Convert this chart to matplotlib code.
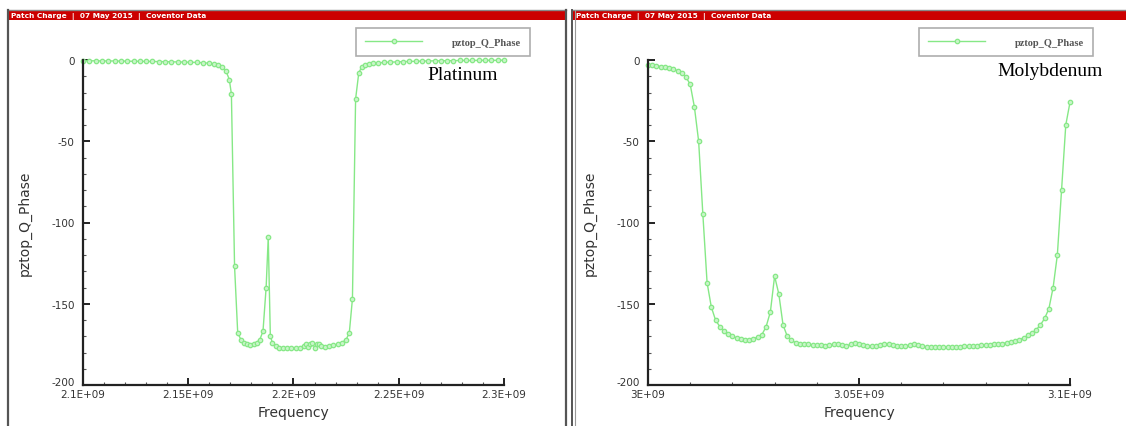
import matplotlib.pyplot as plt
from matplotlib.patches import Rectangle
from matplotlib.lines import Line2D
from matplotlib.transforms import ScaledTranslation

plt.rcParams["axes.unicode_minus"] = False

# Platinum sweep (MHz, degrees)
pt_freq = [2100, 2103, 2106, 2109, 2112, 2115, 2118, 2121, 2124, 2127, 2130, 2133,
           2136, 2139, 2142, 2145, 2148, 2151, 2154, 2157, 2160, 2162, 2164, 2166,
           2168, 2169.5, 2170.5, 2172, 2173.5, 2175, 2176.5, 2178, 2179.5, 2181,
           2182.5, 2184, 2185.5, 2187, 2188, 2189, 2190, 2191.5, 2193, 2195, 2197,
           2199, 2201, 2203, 2205, 2206, 2207, 2208, 2209, 2210, 2211, 2212, 2213,
           2215, 2217, 2219, 2221, 2223, 2225, 2226.5, 2228, 2229.5, 2231, 2232.5,
           2234, 2236, 2238, 2240, 2243, 2246, 2249, 2252, 2255, 2258, 2261, 2264,
           2267, 2270, 2273, 2276, 2279, 2282, 2285, 2288, 2291, 2294, 2297, 2300]
pt_phase = [-0.5, -0.5, -0.5, -0.6, -0.6, -0.6, -0.7, -0.7, -0.8, -0.8, -0.9, -0.9,
            -1.0, -1.0, -1.1, -1.2, -1.3, -1.4, -1.5, -1.7, -2.0, -2.4, -3.0, -4.2,
            -7, -12, -21, -127, -168, -172, -174, -175, -175.5, -175, -174, -172,
            -167, -140, -109, -170, -174, -176, -177, -177.5, -177.5, -177, -177,
            -177, -176, -174.5, -176.5, -175, -174, -177, -175, -174.5, -176,
            -176.5, -176, -175.5, -175, -174, -172, -168, -147, -24, -8, -4,
            -3, -2.5, -2, -1.8, -1.5, -1.3, -1.2, -1.0, -0.9, -0.8, -0.7, -0.6,
            -0.5, -0.5, -0.4, -0.4, -0.3, -0.3, -0.3, -0.2, -0.2, -0.2, -0.2, -0.1]

# Molybdenum sweep (MHz, degrees)
mo_freq = list(range(3000, 3101))
mo_phase = [-3.0, -3.3, -3.6, -4.0, -4.4, -5.0, -5.7, -6.6, -8.0, -10.5,
            -15, -29, -50, -95, -137, -152, -160, -164, -166.5, -168.5,
            -170, -171, -171.5, -172, -172, -171.5, -170.5, -169, -164, -155,
            -133, -144, -163, -170, -172.5, -174, -174.5, -175, -175, -175.5,
            -175.5, -175.5, -176, -175.5, -175, -174.5, -175.5, -176, -175, -174,
            -174.5, -175.5, -176, -176, -176, -175.5, -175, -174.5, -175.5, -176,
            -176, -176, -175.5, -175, -175.5, -176, -176.5, -176.5, -176.5, -176.5,
            -176.5, -176.5, -176.5, -176.5, -176.5, -176, -176, -176, -176, -175.5,
            -175.5, -175.5, -175, -175, -174.5, -174, -173.5, -173, -172, -171,
            -169.5, -168, -166, -163, -159, -153, -140, -120, -80, -40, -26]

pt_ticks = [2.1e9, 2.15e9, 2.2e9, 2.25e9, 2.3e9]
pt_labels = ["2.1E+09", "2.15E+09", "2.2E+09", "2.25E+09", "2.3E+09"]
mo_ticks = [3.0e9, 3.05e9, 3.1e9]
mo_labels = ["3E+09", "3.05E+09", "3.1E+09"]
y_ticks = [0, -50, -100, -150, -200]

header = "Patch Charge  |  07 May 2015  |  Coventor Data"

W, H = 1126, 427
fig = plt.figure(figsize=(W / 100, H / 100), dpi=100)
fig.patch.set_facecolor("white")


def fx(px):
    return px / W


def fy(py):
    return 1 - py / H


green = "#86e886"
tick_col = "#333333"

# x0, x1, data, ticks, label, name position, legend box right/top
panels = [
    (83, 504, pt_freq, pt_phase, pt_ticks, pt_labels, "Platinum", 463, 76, 530),
    (648, 1070, mo_freq, mo_phase, mo_ticks, mo_labels, "Molybdenum", 1050, 72, 1093),
]

for x0, x1, freq, phase, ticks, labels, name, nx, ny, lx in panels:
    ax = fig.add_axes([fx(x0), fy(386), fx(x1 - x0), fy(61) - fy(386)])
    ax.plot([f * 1e6 for f in freq], phase, color=green, lw=1.0, marker="o",
            ms=3.2, mfc="#c8f5c8", mec=green, mew=0.9, label="pztop_Q_Phase",
            clip_on=False)
    ax.set_xlim(ticks[0], ticks[-1])
    ax.set_ylim(-200, 0)
    ax.set_xticks(ticks)
    ax.set_xticklabels(labels)
    step = 0.01e9
    n = int(round((ticks[-1] - ticks[0]) / step))
    minors = [ticks[0] + i * step for i in range(n + 1)]
    ax.set_xticks([t for t in minors if all(abs(t - m) > 1 for m in ticks)], minor=True)
    ax.set_yticks(y_ticks)
    ax.set_yticks([v for v in range(-200, 1, 10) if v % 50 != 0], minor=True)
    for s in ["top", "right"]:
        ax.spines[s].set_visible(False)
    for s in ["left", "bottom"]:
        ax.spines[s].set_linewidth(1.6)
        ax.spines[s].set_color("#222222")
    ax.tick_params(which="major", direction="in", length=5, width=1.4,
                   colors="#222222", labelcolor=tick_col, labelsize=7.5)
    ax.tick_params(which="minor", direction="in", length=2.5, width=0.8,
                   colors="#555555")
    ax.tick_params(axis="y", pad=6)
    ax.tick_params(axis="x", pad=3)
    # lift the bottom y label a little so it clears the first x label
    lab = ax.get_yticklabels()[-1]
    lab.set_transform(lab.get_transform() + ScaledTranslation(0, 3 / 72, fig.dpi_scale_trans))
    ax.set_xlabel("Frequency", fontsize=10, color="#333333", labelpad=4)
    ax.set_ylabel("pztop_Q_Phase", fontsize=10, color="#333333", labelpad=14)
    ax.set_facecolor("none")
    leg = ax.legend(loc="upper right", bbox_to_anchor=(fx(lx), fy(29)),
                    bbox_transform=fig.transFigure, frameon=True, fancybox=False,
                    edgecolor="#999999", prop={"family": "Liberation Serif",
                                               "weight": "bold", "size": 7.5},
                    handlelength=5.5, borderpad=0.9, handletextpad=2.8,
                    borderaxespad=0)
    leg.get_frame().set_linewidth(1.2)
    for t in leg.get_texts():
        t.set_color("#555555")
    fig.text(fx(nx), fy(ny), name, ha="center", va="center",
             family="Liberation Serif", fontsize=14, color="black")

# panel headers and frames
for left, right in [(8, 566), (573, 1126)]:
    fig.patches.append(Rectangle((fx(left), fy(20.5)), fx(right - left), fy(11) - fy(20.5),
                                 transform=fig.transFigure, facecolor="#cc0000",
                                 edgecolor="none"))
    fig.lines.append(Line2D([fx(left), fx(right)], [fy(10.5), fy(10.5)],
                            transform=fig.transFigure, color="#888888", lw=1))
    fig.text(fx(left + 3), fy(16), header, ha="left", va="center",
             fontsize=5.3, color="white", weight="bold")

for xp, c, w in [(8, "#555555", 1.6), (566, "#555555", 1.6), (572, "#555555", 1.4),
                 (574.5, "#999999", 0.8)]:
    fig.lines.append(Line2D([fx(xp), fx(xp)], [fy(10.5), 0],
                            transform=fig.transFigure, color=c, lw=w))

fig.savefig("out.png", dpi=100)
